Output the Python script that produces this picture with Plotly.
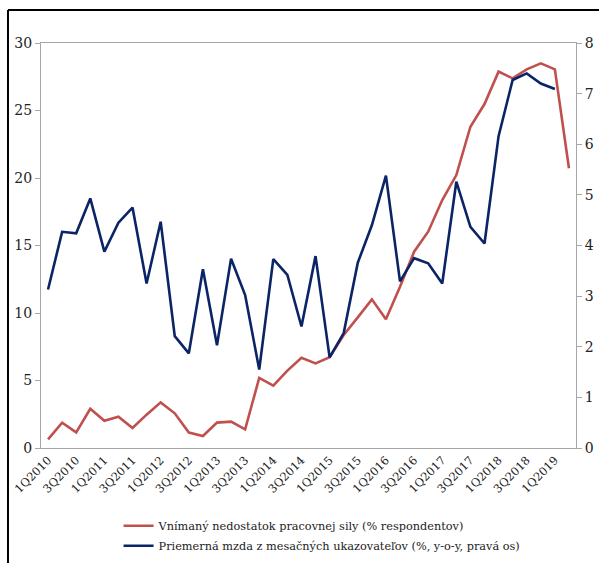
import plotly.graph_objects as go

quarters = [f"{q}Q{y}" for y in range(2010, 2020) for q in range(1, 5)][:38]
tick_labels = quarters[::2]

shortage = [0.64, 1.88, 1.16, 2.91, 2.02, 2.32, 1.48, 2.47, 3.38, 2.57,
            1.14, 0.89, 1.88, 1.95, 1.38, 5.19, 4.62, 5.73, 6.69, 6.27,
            6.72, 8.37, 9.68, 11.01, 9.53, 11.95, 14.54, 16.02, 18.37, 20.22,
            23.8, 25.48, 27.88, 27.38, 28.05, 28.49, 28.05, 20.72]
wage = [3.13, 4.27, 4.24, 4.93, 3.88, 4.45, 4.75, 3.25, 4.47, 2.21,
        1.87, 3.53, 2.03, 3.74, 3.02, 1.55, 3.73, 3.42, 2.40, 3.79,
        1.79, 2.27, 3.66, 4.40, 5.38, 3.29, 3.75, 3.65, 3.25, 5.26,
        4.37, 4.04, 6.16, 7.27, 7.40, 7.20, 7.09, None]

name_red = "Vnímaný nedostatok pracovnej sily (% respondentov)"
name_blue = "Priemerná mzda z mesačných ukazovateľov (%, y-o-y, pravá os)"

fig = go.Figure()
fig.add_trace(go.Scatter(x=quarters, y=shortage, name=name_red, mode="lines",
                         legendgroup="a",
                         line=dict(color="#C0504D", width=2.6)))
fig.add_trace(go.Scatter(x=quarters, y=wage, name=name_blue, mode="lines",
                         legendgroup="b", yaxis="y2",
                         line=dict(color="#0A2466", width=2.6)))

font = "DejaVu Serif"
axis_common = dict(showgrid=False, zeroline=False, showline=True,
                   linecolor="#A6A6A6", linewidth=1, automargin=False,
                   tickfont=dict(family=font, size=14, color="#222"))

fig.update_layout(
    template="none",
    width=599, height=563,
    margin=dict(l=41, r=23, t=43, b=115, autoexpand=False),
    paper_bgcolor="white", plot_bgcolor="white",
    font=dict(family=font, size=13, color="#222"),
    xaxis=dict(type="category", range=[-0.5, 37.5], tickmode="array",
               tickvals=tick_labels, ticktext=tick_labels, tickangle=-45,
               ticks="", mirror=True, showgrid=False, zeroline=False,
               showline=True, linecolor="#A6A6A6", linewidth=1, automargin=False,
               tickfont=dict(family=font, size=11.5, color="#222")),
    yaxis=dict(range=[0, 30], dtick=5, ticks="outside", ticklen=5,
               tickcolor="#A6A6A6", **axis_common),
    yaxis2=dict(range=[0, 8], dtick=1, overlaying="y", side="right",
                ticks="outside", ticklen=5, tickcolor="#A6A6A6", **axis_common),
    showlegend=True,
    legend=dict(x=0.145, xanchor="left", y=-0.156, yanchor="top",
                orientation="v", font=dict(family=font, size=11.3, color="#222"),
                bgcolor="rgba(0,0,0,0)", tracegroupgap=1),
    shapes=[
        dict(type="line", xref="paper", yref="paper", x0=-0.0617, x1=1.2,
             y0=1.0815, y1=1.0815, line=dict(color="black", width=2)),
        dict(type="line", xref="paper", yref="paper", x0=-0.0617, x1=-0.0617,
             y0=-0.5, y1=1.0815, line=dict(color="black", width=2)),
    ],
)

fig.write_html("out.html", config={"displayModeBar": False},
               post_script="document.body.style.margin='0';document.body.style.padding='0';")
